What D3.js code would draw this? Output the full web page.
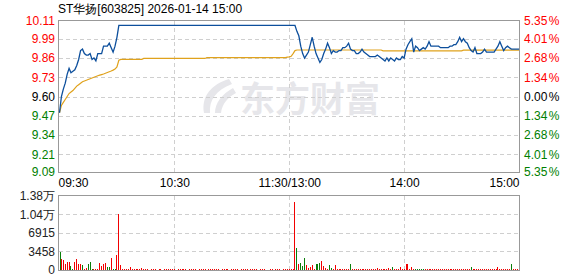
<!DOCTYPE html>
<html>
<head>
<meta charset="utf-8">
<script src="https://cdn.jsdelivr.net/npm/d3@7"></script>
<style>
  body { margin: 0; background: #fff; }
  text { font-family: "Liberation Sans", Arial, sans-serif; }
</style>
</head>
<body>
<svg id="chart"></svg>
<script>
const title = 'ST华扬[603825] 2026-01-14 15:00'
const prevClose = 9.60

const priceTicks = [9.09, 9.21, 9.34, 9.47, 9.60, 9.73, 9.86, 9.99, 10.11]
const pctLabels = ['5.35', '4.01', '2.68', '1.34', '0.00', '1.34', '2.68', '4.01', '5.35']
const timeTicks = [0, 60, 120, 180, 240]
const timeLabels = ['09:30', '10:30', '11:30/13:00', '14:00', '15:00']
const volTicks = [0, 3458, 6915, 10373, 13830]
const volLabels = ['0', '3458', '6915', '1.04万', '1.38万']

// one value per minute, 09:30 .. 15:00 (241 points)
const prices = [
  9.49, 9.60, 9.65, 9.69, 9.75, 9.79, 9.76, 9.77, 9.78, 9.81,
  9.85, 9.91, 9.92, 9.89, 9.88, 9.88, 9.89, 9.85, 9.86, 9.84,
  9.89, 9.89, 9.89, 9.94, 9.94, 9.94, 9.96, 9.93, 9.90, 9.94,
  10.00, 10.08, 10.08, 10.08, 10.08, 10.08, 10.08, 10.08, 10.08, 10.08,
  10.08, 10.08, 10.08, 10.08, 10.08, 10.08, 10.08, 10.08, 10.08, 10.08,
  10.08, 10.08, 10.08, 10.08, 10.08, 10.08, 10.08, 10.08, 10.08, 10.08,
  10.08, 10.08, 10.08, 10.08, 10.08, 10.08, 10.08, 10.08, 10.08, 10.08,
  10.08, 10.08, 10.08, 10.08, 10.08, 10.08, 10.08, 10.08, 10.08, 10.08,
  10.08, 10.08, 10.08, 10.08, 10.08, 10.08, 10.08, 10.08, 10.08, 10.08,
  10.08, 10.08, 10.08, 10.08, 10.08, 10.08, 10.08, 10.08, 10.08, 10.08,
  10.08, 10.08, 10.08, 10.08, 10.08, 10.08, 10.08, 10.08, 10.08, 10.08,
  10.08, 10.08, 10.08, 10.08, 10.08, 10.08, 10.08, 10.08, 10.08, 10.08,
  10.08, 10.08, 10.08, 10.08, 10.04, 10.01, 9.94, 9.89, 9.86, 9.88,
  9.90, 9.95, 10.00, 9.94, 9.89, 9.86, 9.83, 9.85, 9.89, 9.92,
  9.96, 9.93, 9.89, 9.91, 9.90, 9.90, 9.91, 9.91, 9.93, 9.93,
  9.94, 9.96, 9.92, 9.91, 9.91, 9.89, 9.89, 9.90, 9.92, 9.90,
  9.89, 9.88, 9.87, 9.87, 9.87, 9.87, 9.88, 9.87, 9.86, 9.85,
  9.84, 9.86, 9.84, 9.86, 9.85, 9.84, 9.86, 9.85, 9.85, 9.87,
  9.86, 9.92, 9.95, 9.97, 9.99, 9.90, 9.94, 9.93, 9.91, 9.92,
  9.93, 9.92, 9.94, 9.97, 9.94, 9.94, 9.94, 9.94, 9.94, 9.93,
  9.93, 9.93, 9.93, 9.93, 9.94, 9.94, 9.95, 9.95, 9.97, 10.00,
  9.97, 9.99, 9.97, 9.96, 9.93, 9.91, 9.90, 9.93, 9.89, 9.89,
  9.89, 9.90, 9.92, 9.90, 9.90, 9.90, 9.90, 9.90, 9.92, 9.94,
  9.97, 9.94, 9.91, 9.93, 9.94, 9.93, 9.92, 9.92, 9.92, 9.92,
  9.92
]

const avgPrices = [
  9.49, 9.54, 9.56, 9.58, 9.60, 9.62, 9.63, 9.64, 9.655, 9.67,
  9.68, 9.69, 9.70, 9.705, 9.71, 9.715, 9.72, 9.725, 9.73, 9.735,
  9.74, 9.744, 9.748, 9.752, 9.757, 9.762, 9.767, 9.772, 9.778, 9.785,
  9.80, 9.845, 9.851, 9.851, 9.851, 9.851, 9.851, 9.851, 9.851, 9.851,
  9.851, 9.851, 9.851, 9.851, 9.857, 9.857, 9.857, 9.857, 9.857, 9.857,
  9.857, 9.857, 9.857, 9.857, 9.857, 9.857, 9.857, 9.857, 9.857, 9.857,
  9.857, 9.857, 9.857, 9.857, 9.857, 9.857, 9.857, 9.857, 9.857, 9.857,
  9.857, 9.857, 9.857, 9.857, 9.857, 9.857, 9.857, 9.863, 9.863, 9.863,
  9.863, 9.863, 9.863, 9.863, 9.863, 9.863, 9.863, 9.863, 9.863, 9.863,
  9.863, 9.863, 9.863, 9.863, 9.863, 9.863, 9.863, 9.863, 9.863, 9.863,
  9.863, 9.863, 9.863, 9.863, 9.863, 9.863, 9.863, 9.863, 9.863, 9.863,
  9.863, 9.863, 9.863, 9.863, 9.863, 9.863, 9.863, 9.863, 9.863, 9.866,
  9.868, 9.872, 9.89, 9.91, 9.914, 9.914, 9.914, 9.914, 9.914, 9.914,
  9.914, 9.914, 9.914, 9.914, 9.914, 9.914, 9.914, 9.914, 9.914, 9.914,
  9.914, 9.914, 9.914, 9.914, 9.914, 9.914, 9.914, 9.914, 9.914, 9.914,
  9.914, 9.914, 9.914, 9.914, 9.914, 9.914, 9.914, 9.914, 9.914, 9.914,
  9.914, 9.914, 9.914, 9.914, 9.914, 9.914, 9.914, 9.914, 9.914, 9.908,
  9.908, 9.908, 9.908, 9.908, 9.908, 9.908, 9.908, 9.908, 9.908, 9.908,
  9.908, 9.908, 9.908, 9.908, 9.908, 9.908, 9.908, 9.908, 9.908, 9.908,
  9.908, 9.908, 9.908, 9.908, 9.908, 9.908, 9.908, 9.908, 9.908, 9.908,
  9.908, 9.908, 9.908, 9.908, 9.908, 9.908, 9.908, 9.908, 9.908, 9.908,
  9.908, 9.913, 9.913, 9.913, 9.913, 9.913, 9.913, 9.913, 9.913, 9.913,
  9.913, 9.913, 9.913, 9.913, 9.913, 9.913, 9.913, 9.913, 9.913, 9.913,
  9.913, 9.913, 9.913, 9.913, 9.913, 9.913, 9.913, 9.913, 9.913, 9.913,
  9.913
]

const volumes = [
  3420, 2060, 1810, 1120, 1500, 1500, 750, 190, 1550, 2060, 1120, 1120, 990, 190, 370, 1120, 1500, 190, 190, 190,
  190, 1310, 750, 1120, 1370, 620, 620, 2190, 190, 190, 2800, 10420, 880, 150, 120, 200, 150, 480, 150, 100,
  120, 150, 100, 320, 150, 120, 100, 0, 120, 100, 150, 0, 100, 120, 0, 150, 100, 120, 100, 150,
  100, 0, 120, 100, 150, 100, 120, 0, 100, 150, 120, 100, 0, 120, 150, 100, 100, 0, 120, 100,
  150, 100, 120, 100, 0, 150, 100, 120, 100, 0, 100, 120, 150, 100, 0, 120, 100, 100, 150, 0,
  120, 100, 150, 100, 0, 120, 100, 150, 0, 0, 120, 100, 0, 120, 150, 100, 0, 120, 100, 150,
  100, 150, 150, 12770, 4110, 1120, 1370, 750, 2240, 930, 370, 620, 930, 190, 1120, 1120, 1370, 1680, 750, 370,
  190, 930, 370, 100, 930, 190, 190, 150, 190, 190, 150, 190, 1120, 150, 190, 150, 190, 150, 150, 190,
  150, 190, 150, 190, 150, 150, 370, 190, 150, 190, 150, 190, 370, 150, 560, 190, 150, 190, 560, 150,
  190, 1120, 1120, 190, 560, 190, 150, 190, 150, 190, 150, 190, 190, 150, 190, 150, 190, 150, 190, 190,
  150, 190, 190, 150, 190, 190, 150, 190, 190, 150, 190, 190, 150, 190, 190, 560, 150, 190, 190, 150,
  190, 190, 150, 190, 190, 150, 190, 190, 150, 560, 190, 150, 190, 190, 150, 190, 1120, 150, 190, 190,
  3000
]

// minutes whose volume bar is drawn green (price went down)
const greenMinutes = [0, 6, 7, 12, 15, 16, 17, 25, 26, 28, 29, 124, 126, 127, 128, 134, 135, 136,
  141, 142, 152, 174, 186, 187, 188, 189, 190, 215, 236]

const width = 578
const height = 276
const left = 59
const right = 519
const priceTop = 21
const priceBottom = 172
const volTop = 196
const volBottom = 270

const svg = d3.select('#chart')
  .attr('width', width)
  .attr('height', height)

const x = d3.scaleLinear().domain([0, 240]).range([left + 0.5, right])
const y = d3.scaleLinear().domain([9.09, 10.11]).range([priceBottom, priceTop])
const yVol = d3.scaleLinear().domain([0, 13830]).range([volBottom, volTop])

// title
svg.append('text')
  .attr('x', left - 1)
  .attr('y', 13)
  .attr('font-size', 12)
  .attr('fill', '#000')
  .text(title)

// watermark
const wm = svg.append('g').attr('fill', '#e6e6ea')
wm.append('path')
  .attr('d', 'M229,79 C212,84 201,96 204,113 L210,113 C209,100 216,90 232,84 Z')
wm.append('path')
  .attr('d', 'M233,88 C222,94 215,103 215,113 L221,113 C222,104 228,97 236,93 Z')
wm.append('text')
  .attr('x', 240)
  .attr('y', 112)
  .attr('font-size', 35)
  .attr('font-weight', 'bold')
  .style('font-family', '"Noto Sans CJK SC", sans-serif')
  .text('东方财富')

// grid lines
const grid = svg.append('g')
  .attr('stroke', '#cfcfcf')
  .attr('stroke-dasharray', '4,3')
  .attr('shape-rendering', 'crispEdges')
grid.selectAll('.hgrid')
  .data(priceTicks.slice(1, -1))
  .enter()
  .append('line')
  .attr('x1', left).attr('x2', right)
  .attr('y1', a => Math.round(y(a)) + 0.5)
  .attr('y2', a => Math.round(y(a)) + 0.5)
grid.selectAll('.vgrid')
  .data(volTicks.slice(1, -1))
  .enter()
  .append('line')
  .attr('x1', left).attr('x2', right)
  .attr('y1', a => Math.round(yVol(a)) + 0.5)
  .attr('y2', a => Math.round(yVol(a)) + 0.5)
grid.selectAll('.tgrid')
  .data(timeTicks.slice(1, -1))
  .enter()
  .append('path')
  .attr('d', a => {
    const px = Math.round(x(a)) + 0.5
    return `M${px},${priceTop}V${priceBottom}M${px},${volTop}V${volBottom}`
  })

// volume bars
svg.append('g')
  .attr('shape-rendering', 'crispEdges')
  .selectAll('rect')
  .data(volumes)
  .enter()
  .append('rect')
  .attr('x', (a, i) => Math.max(left + 1, Math.floor(x(i))))
  .attr('y', a => yVol(a))
  .attr('width', 1)
  .attr('height', a => volBottom - yVol(a))
  .attr('fill', (a, i) => greenMinutes.includes(i) ? '#0a7d0a' : '#f20000')

// average line and price line
const line = d3.line().x((a, i) => x(i)).y(a => y(a))
svg.append('path')
  .datum(avgPrices)
  .attr('d', line)
  .attr('fill', 'none')
  .attr('stroke', '#e0a21c')
  .attr('stroke-width', 1.2)
svg.append('path')
  .datum(prices)
  .attr('d', line)
  .attr('fill', 'none')
  .attr('stroke', '#0d4f9c')
  .attr('stroke-width', 1.3)

// borders
svg.append('rect')
  .attr('x', left - 0.5).attr('y', priceTop - 0.5)
  .attr('width', right - left + 1).attr('height', priceBottom - priceTop + 1)
  .attr('fill', 'none').attr('stroke', '#999')
svg.append('rect')
  .attr('x', left - 0.5).attr('y', volTop - 0.5)
  .attr('width', right - left + 1).attr('height', volBottom - volTop + 1)
  .attr('fill', 'none').attr('stroke', '#999')

const labelColor = a => a > prevClose ? '#f00' : (a < prevClose ? '#008000' : '#000')

// left price axis
const leftAxis = svg.append('g')
  .attr('transform', `translate(${left},0)`)
  .call(d3.axisLeft(y).tickValues(priceTicks).tickSize(0).tickPadding(4).tickFormat(d3.format('.2f')))
leftAxis.select('.domain').remove()
leftAxis.selectAll('text')
  .attr('font-size', 12)
  .style('font-family', '"Liberation Sans", Arial, sans-serif')
  .attr('fill', a => labelColor(a))

// right percent axis, with a small gap before the % sign
const rightAxis = svg.append('g')
  .attr('transform', `translate(${right},0)`)
  .call(d3.axisRight(y).tickValues(priceTicks).tickSize(0).tickPadding(5)
    .tickFormat((a, i) => pctLabels[i]))
rightAxis.select('.domain').remove()
rightAxis.selectAll('text')
  .attr('font-size', 12)
  .style('font-family', '"Liberation Sans", Arial, sans-serif')
  .attr('fill', a => labelColor(a))
  .append('tspan')
  .attr('dx', 1.5)
  .text('%')

// time axis
const timeAxis = svg.append('g')
  .attr('transform', `translate(0,${priceBottom})`)
  .call(d3.axisBottom(x).tickValues(timeTicks).tickSize(0).tickPadding(6)
    .tickFormat((a, i) => timeLabels[i]))
timeAxis.select('.domain').remove()
timeAxis.selectAll('text')
  .attr('font-size', 12)
  .style('font-family', '"Liberation Sans", Arial, sans-serif')
  .attr('fill', '#000')
  .attr('text-anchor', (a, i) => i === 0 ? 'start' : (i === timeTicks.length - 1 ? 'end' : 'middle'))
  .attr('dx', (a, i) => i === 0 ? -1.5 : 0)

// volume axis
const volAxis = svg.append('g')
  .attr('transform', `translate(${left},0)`)
  .call(d3.axisLeft(yVol).tickValues(volTicks).tickSize(0).tickPadding(4)
    .tickFormat((a, i) => volLabels[i]))
volAxis.select('.domain').remove()
volAxis.selectAll('text')
  .attr('font-size', 12)
  .style('font-family', '"Liberation Sans", Arial, sans-serif')
  .attr('fill', '#222')
</script>
</body>
</html>
